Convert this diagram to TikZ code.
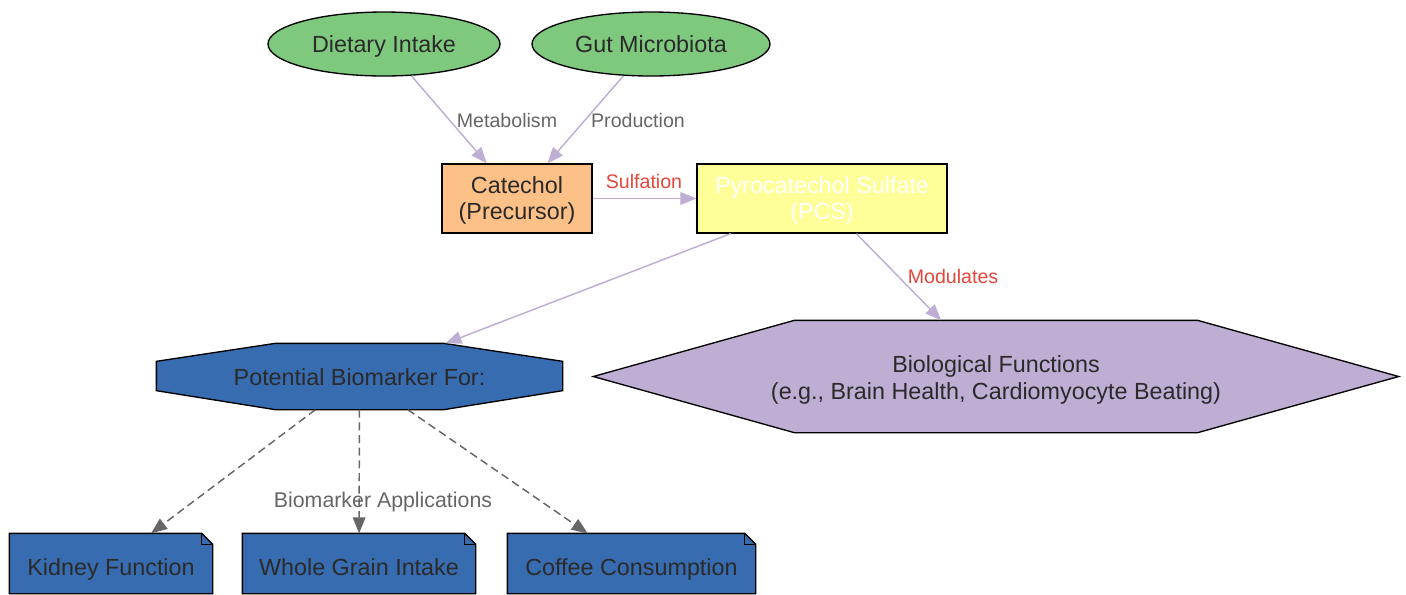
\documentclass[tikz,border=0pt]{standalone}
\usepackage{fontspec}
\setmainfont{Liberation Sans}
\usetikzlibrary{shapes.geometric,arrows.meta,calc}
\pgfdeclarelayer{background}
\pgfsetlayers{background,main}
\definecolor{grn}{HTML}{7FC97F}
\definecolor{lav}{HTML}{BEAED4}
\definecolor{org}{HTML}{FDC086}
\definecolor{ylw}{HTML}{FFFF99}
\definecolor{blu}{HTML}{386CB0}
\definecolor{gry}{HTML}{666666}
\definecolor{redc}{HTML}{E4463A}
\definecolor{txt}{HTML}{2A2A2A}
% two-line text: first baseline at (#1)/2 above the node centre
\newcommand\twolines[3]{\raisebox{0pt}[0pt][#1]{\begin{tabular}[t]{@{}c@{}}#2\\#3\end{tabular}}}
\begin{document}
\begin{tikzpicture}[x=0.75pt,y=-0.75pt,
  base/.style={font=\fontsize{17.5}{20}\selectfont, text=txt, inner sep=0pt, line width=1pt},
  ellnode/.style={base, ellipse, draw, fill=grn, minimum height=48pt, text height=12.4pt, text depth=0pt},
  boxnode/.style={base, rectangle, draw, minimum height=51.75pt},
  plainnode/.style={base, rectangle},
  notenode/.style={base, rectangle, minimum height=44.25pt, text height=18.2pt, text depth=0pt},
  outline/.style={draw=black, line width=1pt, line join=miter},
  edgeA/.style={draw=lav, line width=1.1pt, -{Triangle[length=12pt,width=9.5pt]}},
  edgeB/.style={draw=gry, line width=1.1pt, dash pattern=on 6pt off 3.5pt, -{Triangle[length=12pt,width=9.5pt]}},
  lab/.style={font=\fontsize{14.7}{17}\selectfont, text=gry, inner sep=0pt, text height=10.5pt, text depth=0pt},
  labred/.style={lab, text=redc}
]
\useasboundingbox (0,0) rectangle (1406,594);
\clip (0,0) rectangle (1406,594);

% nodes
\node[ellnode, minimum width=174pt] (diet) at (384,44) {Dietary Intake};
\node[ellnode, minimum width=178.5pt] (gut) at (651,44) {Gut Microbiota};
\node[boxnode, fill=org, minimum width=112.5pt] (cat) at (517,198.5) {\twolines{7.8pt}{Catechol}{(Precursor)}};
\node[boxnode, fill=ylw, text=white, minimum width=187.5pt] (pcs) at (822,198.5) {\twolines{7.8pt}{Pyrocatechol Sulfate}{(PCS)}};
\node[plainnode, minimum width=303.75pt, minimum height=48.75pt, text height=12.8pt, text depth=0pt] (bio) at (359.5,376.5) {Potential Biomarker For:};
\node[plainnode, minimum width=603pt, minimum height=83.25pt] (func) at (996,376.5) {\twolines{6pt}{Biological Functions}{(e.g., Brain Health, Cardiomyocyte Beating)}};
\node[notenode, minimum width=151.5pt] (kid) at (111,563.5) {Kidney Function};
\node[notenode, minimum width=174pt] (whole) at (359,563.5) {Whole Grain Intake};
\node[notenode, minimum width=185.25pt] (cof) at (631.5,563.5) {Coffee Consumption};

% custom outlines
\begin{pgfonlayer}{background}
\draw[outline, fill=blu]
  ($(bio.north west)+(119,0)$) -- ($(bio.north east)+(-119,0)$) -- ($(bio.north east)+(0,18)$)
  -- ($(bio.south east)+(0,-19)$) -- ($(bio.south east)+(-119,0)$) -- ($(bio.south west)+(119,0)$)
  -- ($(bio.south west)+(0,-19)$) -- ($(bio.north west)+(0,18)$) -- cycle;
\draw[outline, fill=lav]
  (func.west) -- ($(func.north west)+(201,0)$) -- ($(func.north east)+(-201,0)$) -- (func.east)
  -- ($(func.south east)+(-201,0)$) -- ($(func.south west)+(201,0)$) -- cycle;
\foreach \n in {kid,whole,cof}{
  \draw[outline, fill=blu] (\n.south west) -- (\n.north west) -- ($(\n.north east)+(-11,0)$)
    -- ($(\n.north east)+(0,11)$) -- (\n.south east) -- cycle;
  \draw[outline] ($(\n.north east)+(-11,0)$) -- ($(\n.north east)+(-11,11)$) -- ($(\n.north east)+(0,11)$);
}
\end{pgfonlayer}

% edges
\draw[edgeA] (diet) -- (cat);
\draw[edgeA] (gut) -- (cat);
\draw[edgeA] (cat) -- (pcs);
\draw[edgeA] (pcs) -- (bio);
\draw[edgeA] (pcs) -- (func);
\draw[edgeB] (bio) -- (kid);
\draw[edgeB] (bio) -- (whole);
\draw[edgeB] (bio) -- (cof);

% edge labels
\node[lab] (lmet) at (507,120) {Metabolism};
\node[lab] (lpro) at (638,120) {Production};
\node[labred] (lsul) at (644,181.2) {Sulfation};
\node[labred] (lmod) at (953,276.7) {Modulates};
\node[lab, font=\fontsize{16}{18}\selectfont, text height=11.5pt] (lapp) at (383,500) {Biomarker Applications};
\end{tikzpicture}
\end{document}
